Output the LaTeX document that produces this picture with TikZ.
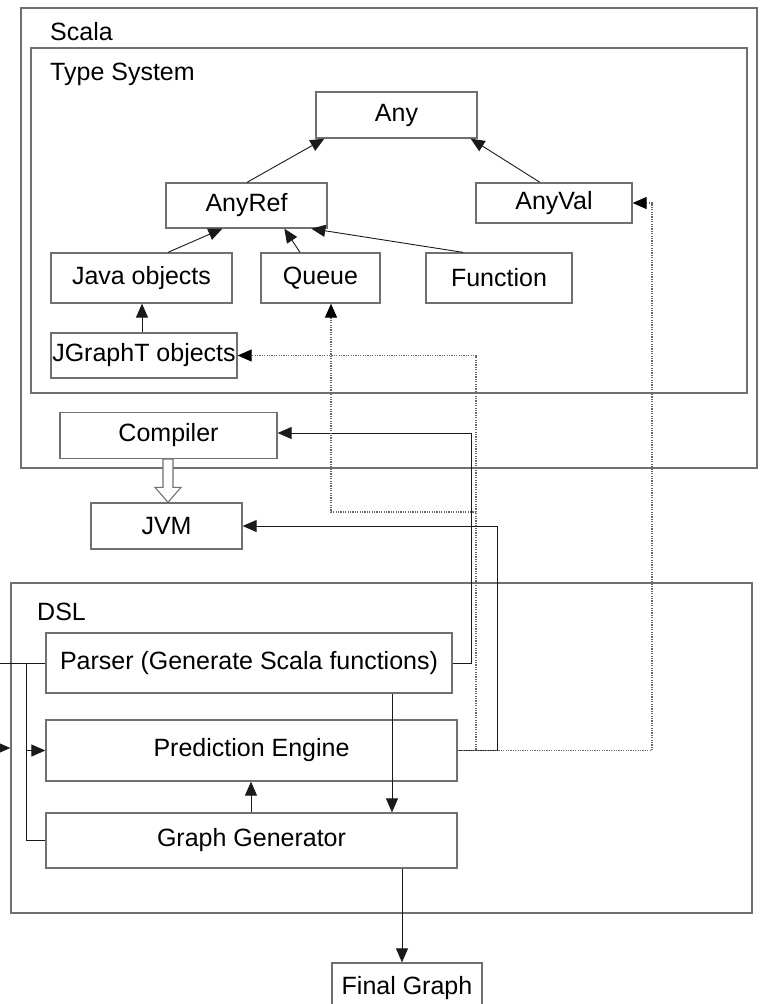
\documentclass[tikz,border=0pt]{standalone}
\usepackage{fontspec}
\setmainfont{Liberation Sans}
\usetikzlibrary{arrows.meta,calc}
\definecolor{boxgray}{HTML}{707070}
\definecolor{linegray}{HTML}{1A1A1A}
\definecolor{dotgray}{HTML}{666666}
\begin{document}
\begin{tikzpicture}[x=1pt,y=-1pt,
  font=\fontsize{25}{29}\selectfont,
  container/.style={draw=boxgray,line width=1.3pt,inner sep=0pt},
  box/.style={draw=boxgray,line width=1.3pt,inner sep=0pt,align=center},
  conn/.style={draw=linegray,line width=0.9pt,-{Triangle[length=14pt,width=12pt]}},
  plain/.style={draw=linegray,line width=0.9pt},
  dots/.style={draw=dotgray,line width=1.1pt,dash pattern=on 1.2pt off 1.2pt,-{Triangle[length=14pt,width=12pt,fill=black,color=black]}},
  lab/.style={anchor=base west,inner sep=0pt}
]
\clip (0,0) rectangle (760,1004);
\fill[white] (0,0) rectangle (760,1004);

% containers
\node[container,minimum width=736pt,minimum height=460pt] (scala) at (389,238) {};
\node[lab] (scalalab) at (50,40) {Scala};
\node[container,minimum width=716pt,minimum height=345pt] (types) at (389,220.5) {};
\node[lab] (typeslab) at (50,80) {Type System};
\node[container,minimum width=741pt,minimum height=330pt] (dsl) at (381.5,748) {};
\node[lab] (dsllab) at (37,620) {DSL};

% type nodes
\node[box,minimum width=161pt,minimum height=46pt] (any) at (396.5,115) {Any};
\node[box,minimum width=161pt,minimum height=45pt] (anyref) at (246.5,205.5) {AnyRef};
\node[box,minimum width=156pt,minimum height=40pt] (anyval) at (554,203) {AnyVal};
\node[box,minimum width=181pt,minimum height=50pt] (java) at (141.5,278) {Java objects};
\node[box,minimum width=119pt,minimum height=50pt] (queue) at (320.5,278) {Queue};
\node[box,minimum width=146pt,minimum height=50pt] (function) at (499,278) {Function};
\node[box,minimum width=186pt,minimum height=45pt] (jgrapht) at (144,355.5) {JGraphT objects};

\node[box,minimum width=217pt,minimum height=46pt] (compiler) at (168.5,435.5) {Compiler};
\node[box,minimum width=151pt,minimum height=46pt] (jvm) at (166.5,526) {JVM};

% DSL nodes
\node[box,minimum width=406pt,minimum height=60pt] (parser) at (249,663) {Parser (Generate Scala functions)};
\node[box,minimum width=411pt,minimum height=61pt] (pred) at (251.5,750.5) {Prediction Engine};
\node[box,minimum width=411pt,minimum height=55pt] (gen) at (251.5,840.5) {Graph Generator};
\node[box,minimum width=150pt,minimum height=50pt] (final) at (407,988) {Final Graph};

% type hierarchy arrows
\draw[conn] ($(anyref.north)+(0.5,0)$) -- ($(any.south west)+(9,0)$);
\draw[conn] ($(anyval.north)+(-14,0)$) -- ($(any.south east)+(-7,0)$);
\draw[conn] ($(java.north)+(26.5,0)$) -- ($(anyref.south west)+(57,0)$);
\draw[conn] ($(queue.north)+(-20.5,0)$) -- ($(anyref.south west)+(119,0)$);
\draw[conn] ($(function.north)+(-36,0)$) -- ($(anyref.south west)+(146,0)$);
\draw[conn] ($(jgrapht.north)+(-2,0)$) -- ($(java.south)+(0.5,0)$);

% hollow arrow compiler -> jvm
\filldraw[fill=white,draw=boxgray,line width=1.1pt]
  ($(compiler.south)+(-5.5,0)$) -- ($(compiler.south)+(4.5,0)$)
  -- ($(jvm.north)+(6.5,-15)$) -- ($(jvm.north)+(14.5,-15)$)
  -- ($(jvm.north)+(1.5,0)$) -- ($(jvm.north)+(-11.5,-15)$)
  -- ($(jvm.north)+(-3.5,-15)$) -- cycle;

% parser -> compiler, pred -> jvm
\coordinate (pc) at (471,663);
\draw[conn] (parser.east) -- (pc) |- (compiler.east |- 0,433);
\coordinate (pj) at (497,750.5);
\draw[conn] (pred.east) -- (pj) |- (jvm.east);

% dotted links
\coordinate (dj) at (476,750.5);
\draw[dots] (pred.east) -- (dj) |- (jgrapht.east);
\coordinate (dq) at (476,512);
\draw[dots] (dq) -| ($(queue.south)+(10.5,0)$);
\coordinate (dv) at (652,750.5);
\draw[dots] (pred.east) -- (dv) |- (anyval.east);

% DSL internal
\draw[conn] ($(parser.south)+(143,0)$) -- ($(gen.north)+(140.5,0)$);
\draw[conn] ($(gen.north)+(-0.5,0)$) -- ($(pred.south)+(-0.5,0)$);
\draw[conn] ($(gen.south)+(150.5,0)$) -- ($(final.north)+(-5,0)$);

% left side
\coordinate (lin) at (0,663);
\draw[plain] (lin) -- (parser.west);
\coordinate (lt) at (26,663);
\coordinate (lb) at (26,840.5);
\draw[plain] (lt) -- (lb) -- (gen.west);
\coordinate (lm) at (26,750.5);
\draw[conn] (lm) -- (pred.west);
\coordinate (lext) at (0,748);
\draw[conn] (lext) -- (dsl.west |- lext);
\end{tikzpicture}
\end{document}
